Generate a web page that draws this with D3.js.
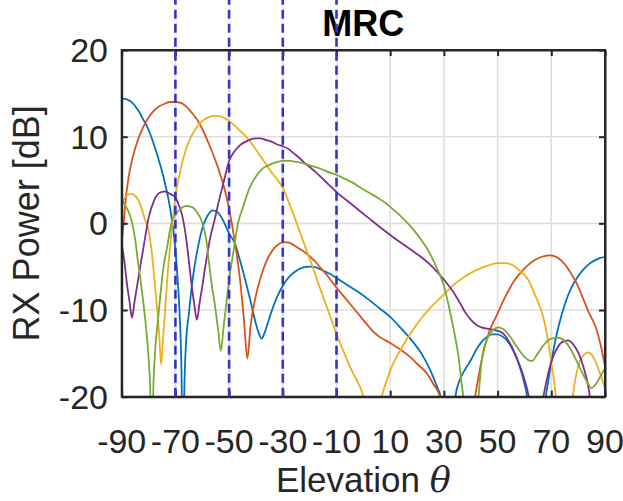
<!DOCTYPE html>
<html><head><meta charset="utf-8">
<script src="https://cdn.jsdelivr.net/npm/d3@7"></script>
<style>
body{margin:0;background:#fff;}
svg{display:block;font-family:"Liberation Sans",Arial,Helvetica,sans-serif;}
</style>
</head><body>
<svg id="chart" width="623" height="501"></svg>
<script>
// ---- data ----
const xTicks = [-90,-70,-50,-30,-10,10,30,50,70,90];
const yTicks = [-20,-10,0,10,20];
const markerAngles = [-70,-50,-30,-10];
const titleText = "MRC";
const xLabel = "Elevation ";
const xLabelSym = "θ";
const yLabel = "RX Power [dB]";
const colors = ["#0072BD","#D95319","#EDB120","#7E2F8E","#77AC30"];

const s1Theta = [-90,-88,-86,-84,-82,-80,-78,-76,-74,-72,-70.5,-69.5,-68.5,-67.8,-67.2,-66.6,-66,-65,-64,-63,-61.5,-60,-58,-56,-54,-52,-50,-48,-46,-44,-42,-40,-39,-37.9,-37,-36,-34,-32,-30,-28,-26,-24,-22,-20,-18,-16,-14,-12,-10,-6,-2,2,6,10,14,18,22,25,27,28.8,30,31,32,33,34.1,36,38,40,42,44,46,48,50,52,54,56,58,60,61,62,63.5,65,66.5,68,70,72,74,76,78,80,82,84,86,88,90];
const s1Db = [14.4,14.3,13.9,13.1,12.0,10.8,9.1,7.1,4.8,1.8,-1.5,-5,-10,-16,-28,-18,-13.5,-10.5,-7.5,-5.2,-2.6,-0.6,0.9,1.5,1.2,0.2,-1.2,-2.2,-4.2,-6.5,-9.0,-11.6,-12.6,-13.3,-12.8,-11.9,-10.0,-8.4,-7.2,-6.3,-5.7,-5.3,-5.05,-5.0,-5.05,-5.3,-5.6,-5.9,-6.3,-7.1,-7.9,-8.8,-9.8,-10.8,-12.1,-13.5,-15.2,-17.0,-18.5,-20,-22,-25,-30,-24,-20.3,-18,-16.8,-15.8,-14.6,-13.7,-13.1,-12.8,-12.8,-13.1,-13.7,-14.8,-16.3,-18.5,-20,-23,-30,-26,-22,-19.8,-16,-12.8,-10.4,-8.5,-7.1,-6.1,-5.3,-4.7,-4.3,-4.0,-3.9];

const s2Theta = [-90,-89.3,-88.5,-87.5,-86,-84,-82,-80,-78,-76,-74,-72,-70,-68,-66,-64,-62,-60,-58,-56,-54,-52,-50,-48,-46,-44.5,-43.2,-42,-40,-38,-36,-34,-32,-30,-28,-26,-24,-22,-20,-18,-16,-14,-12,-10,-8.7,-6,-2,2,3.7,6,10,14,17.4,20,23.6,26,28.5,30,32,35,38,40,41.6,43,45,47,49.7,52,54,56,58.3,61,64,67,69.5,72,75,77,79.4,82,84,86.9,88.5,90];
const s2Db = [-2.3,0,2.8,5.2,7.5,9.6,11.1,12.2,13.0,13.5,13.8,14.0,14.0,13.9,13.5,12.8,12.0,10.9,9.5,8.0,6.3,4.3,1.7,-1.9,-6.3,-11,-15.6,-11.8,-8.3,-6.0,-4.3,-3.2,-2.5,-2.2,-2.2,-2.5,-2.9,-3.3,-3.8,-4.4,-5.1,-5.8,-6.6,-7.4,-7.9,-8.9,-10.4,-11.9,-12.5,-13.1,-13.8,-14.6,-15.4,-16.2,-17.3,-18.5,-20,-23,-30,-40,-30,-23,-20,-17.5,-14.5,-12.4,-10.6,-9.0,-7.8,-6.7,-5.8,-4.9,-4.2,-3.8,-3.7,-3.9,-4.7,-5.6,-6.9,-8.8,-10.3,-12.3,-14.2,-16.5];

const s3Theta = [-90,-88.5,-86.4,-84.5,-83,-81.5,-80,-79,-78,-77,-76,-75.3,-74.6,-74,-73,-72,-71,-70,-68,-66,-64,-62,-60,-58,-56,-54,-52,-50,-48,-46,-44,-42,-40,-38,-36,-34,-32,-30,-28,-26,-24,-22,-20,-18,-16,-14,-12,-10,-8,-6,-4,-2,0,1.5,3,4.5,6,7,10,14,18,22,26,30,34,38,42,46,50,53,56,58,61.4,64,67,68.5,70.1,71.7,73,75,76.5,78,80,82,83.8,86,88,90];
const s3Db = [2.3,3.1,3.4,3.0,2.1,0.6,-0.8,-2.8,-5.8,-9.2,-13,-16.3,-13.3,-10.8,-6.3,-2.8,0.5,3.0,6.3,8.6,10.1,11.1,11.8,12.2,12.4,12.4,12.2,11.8,11.3,10.7,10.1,9.4,8.5,7.6,6.7,5.8,5.0,4.1,2.6,1.0,-0.7,-2.4,-4.1,-5.8,-7.6,-9.3,-11.0,-12.8,-14.3,-15.8,-17.2,-18.4,-20,-23,-30,-24,-21,-19.8,-17,-14.5,-12.5,-10.8,-9.4,-8.2,-7.0,-6.1,-5.4,-4.9,-4.6,-4.6,-4.9,-5.4,-6.5,-8.3,-10.8,-13,-16.2,-20,-25,-30,-25,-20,-16.5,-15.2,-14.9,-15.6,-17.2,-19.0];

const s4Theta = [-90,-89,-88,-87,-86.2,-85.2,-84,-83,-82,-80,-78,-76,-74,-72,-70,-69,-68,-67,-66,-65,-64,-63,-62,-61,-60,-59,-58,-57,-55.4,-54,-52,-50,-48,-46,-44,-42,-40,-38.5,-36,-34,-32,-30,-28,-26,-24,-22,-20,-18,-16,-14,-12,-10,-6,-2,2,6,10,14,18,22,26,30,33,36,38,40,42,44,47,50,52,54,56,58,60,62,64,66,68,70,72,74,76.3,78,80,82,84,85.5,88,90];
const s4Db = [-2.3,-4.4,-7.1,-9.2,-10.9,-9.0,-6.7,-4.8,-3.0,0.6,2.6,3.5,3.7,3.4,3.0,2.3,1.5,0.2,-1.7,-4.3,-7.0,-9.3,-11.1,-9.2,-7.3,-5.2,-3.3,-1.6,0.4,2.3,4.8,7.2,8.3,9.0,9.4,9.7,9.8,9.8,9.6,9.4,9.1,8.9,8.6,8.1,7.6,7.0,6.5,6.0,5.4,4.8,4.2,3.6,2.6,1.6,0.6,-0.4,-1.35,-2.25,-3.1,-4.0,-5.1,-6.5,-7.7,-9.2,-10.3,-11.1,-11.7,-12.0,-12.2,-12.4,-12.7,-13.5,-14.7,-16.2,-18,-20.8,-28,-22,-18.5,-16,-14.5,-13.7,-13.5,-13.9,-14.9,-16.6,-19.2,-23,-30,-28];

const s5Theta = [-90,-88,-86.4,-85,-84,-83,-82,-81,-80,-79.3,-78.8,-78.3,-77.5,-76.5,-75.5,-74.6,-73,-71.5,-70,-68,-66,-64,-62,-60,-58.5,-57.5,-56.5,-55.4,-54,-53.1,-52,-51,-50,-48.5,-46.7,-45,-42.2,-40,-38,-36,-34,-32,-30,-27.3,-25,-22,-20,-16,-12,-10,-8,-4,0,4,8,10,14,18,22,25,28,30,32,34,35.5,36.6,37.2,38.5,40,41.5,42.9,44,45.9,48,50.3,52,54,57.1,60,62.7,65,67.5,70,72.6,75,77,79,81,83,85,86.5,88,90];
const s5Db = [2.7,1.7,0.4,-1.8,-4.3,-6.5,-9.0,-11.8,-15.5,-20,-30,-20,-14.5,-11.2,-8.0,-5.4,-2.6,0,1.0,1.7,2.0,1.9,1.3,0.1,-1.9,-4.5,-7,-9.2,-12.5,-14.7,-11.8,-9.2,-6.5,-3.5,0,1.7,4.2,5.4,6.2,6.6,6.9,7.1,7.2,7.2,7.1,6.9,6.7,6.3,5.8,5.6,5.3,4.7,3.9,3.2,2.4,1.9,0.8,-0.5,-2.1,-3.6,-5.6,-7.2,-9.8,-12.8,-15.5,-18.5,-20,-26,-30,-26,-20,-16,-13.5,-12.4,-12.0,-12.2,-12.8,-14.2,-15.4,-15.9,-15.0,-13.9,-13.3,-13.2,-13.6,-14.4,-15.6,-16.9,-18.1,-19.0,-18.6,-17.8,-16.7];

const seriesThetas = [s1Theta,s2Theta,s3Theta,s4Theta,s5Theta];
const seriesDbs = [s1Db,s2Db,s3Db,s4Db,s5Db];

// ---- layout ----
const svg = d3.select("#chart");
const plot = {left:121.7, right:605, top:50, bottom:396.7};
const x = d3.scaleLinear().domain([-90,90]).range([plot.left, plot.right]);
const y = d3.scaleLinear().domain([-20,20]).range([plot.bottom, plot.top]);
const axisColor = "#262626";

svg.append("defs").append("clipPath").attr("id","clip")
  .append("rect").attr("x",plot.left).attr("y",plot.top)
  .attr("width",plot.right-plot.left).attr("height",plot.bottom-plot.top);

// grid
const grid = svg.append("g");
grid.selectAll("line.gx").data(xTicks.slice(1,-1)).enter().append("line")
  .attr("x1",d=>x(d)).attr("x2",d=>x(d)).attr("y1",plot.top).attr("y2",plot.bottom)
  .attr("stroke","#dfdfdf").attr("stroke-width",1.6);
grid.selectAll("line.gy").data(yTicks.slice(1,-1)).enter().append("line")
  .attr("x1",plot.left).attr("x2",plot.right).attr("y1",d=>y(d)).attr("y2",d=>y(d))
  .attr("stroke","#dfdfdf").attr("stroke-width",1.6);

// title
svg.append("text").attr("x",(plot.left+plot.right)/2).attr("y",36)
  .attr("text-anchor","middle").attr("font-weight","bold").attr("font-size",36)
  .attr("fill","#000").text(titleText);

// curves
const line = d3.line().x(d=>x(d[0])).y(d=>y(d[1])).curve(d3.curveMonotoneX);
const curves = svg.append("g").attr("clip-path","url(#clip)");
seriesThetas.forEach((th,i)=>{
  const pts = th.map((t,j)=>[t, seriesDbs[i][j]]);
  curves.append("path").attr("d",line(pts)).attr("fill","none")
    .attr("stroke",colors[i]).attr("stroke-width",1.8).attr("stroke-linejoin","round");
});

// axes (box with inward ticks)
const ax = svg.append("g");
const xAxisB = d3.axisBottom(x).tickValues(xTicks).tickSizeInner(-6).tickSizeOuter(0).tickFormat("");
const xAxisT = d3.axisTop(x).tickValues(xTicks).tickSizeInner(-6).tickSizeOuter(0).tickFormat("");
const yAxisL = d3.axisLeft(y).tickValues(yTicks).tickSizeInner(-6).tickSizeOuter(0).tickFormat("");
const yAxisR = d3.axisRight(y).tickValues(yTicks).tickSizeInner(-6).tickSizeOuter(0).tickFormat("");
ax.append("g").attr("transform",`translate(0,${plot.bottom})`).call(xAxisB);
ax.append("g").attr("transform",`translate(0,${plot.top})`).call(xAxisT);
ax.append("g").attr("transform",`translate(${plot.left},0)`).call(yAxisL);
ax.append("g").attr("transform",`translate(${plot.right},0)`).call(yAxisR);
ax.selectAll("path.domain").attr("stroke",axisColor).attr("stroke-width",2);
ax.selectAll(".tick line").attr("stroke",axisColor).attr("stroke-width",2);
ax.append("rect").attr("x",plot.left).attr("y",plot.top)
  .attr("width",plot.right-plot.left).attr("height",plot.bottom-plot.top)
  .attr("fill","none").attr("stroke",axisColor).attr("stroke-width",2);

// tick labels
svg.append("g").selectAll("text").data(xTicks).enter().append("text")
  .attr("x",d=>x(d)).attr("y",453).attr("text-anchor","middle")
  .attr("font-size",34).attr("fill",axisColor).text(d=>d);
svg.append("g").selectAll("text").data(yTicks).enter().append("text")
  .attr("x",108).attr("y",d=>y(d)+12).attr("text-anchor","end")
  .attr("font-size",34).attr("fill",axisColor).text(d=>d);

// axis labels
const xl = svg.append("text").attr("x",(plot.left+plot.right)/2).attr("y",492)
  .attr("text-anchor","middle").attr("font-size",35).attr("fill",axisColor);
xl.append("tspan").text(xLabel);
xl.append("tspan").attr("font-family","'DejaVu Serif','Liberation Serif',serif")
  .attr("font-style","italic").text(xLabelSym);
svg.append("text").attr("transform",`translate(39,${(plot.top+plot.bottom)/2}) rotate(-90)`)
  .attr("text-anchor","middle").attr("font-size",36).attr("fill",axisColor).text(yLabel);

// marker dashed lines
svg.append("g").selectAll("line").data(markerAngles).enter().append("line")
  .attr("x1",d=>x(d)).attr("x2",d=>x(d)).attr("y1",y(-20)).attr("y2",y(30))
  .attr("stroke","#3434c8").attr("stroke-width",2.6).attr("stroke-dasharray","9,5");
</script>
</body></html>
